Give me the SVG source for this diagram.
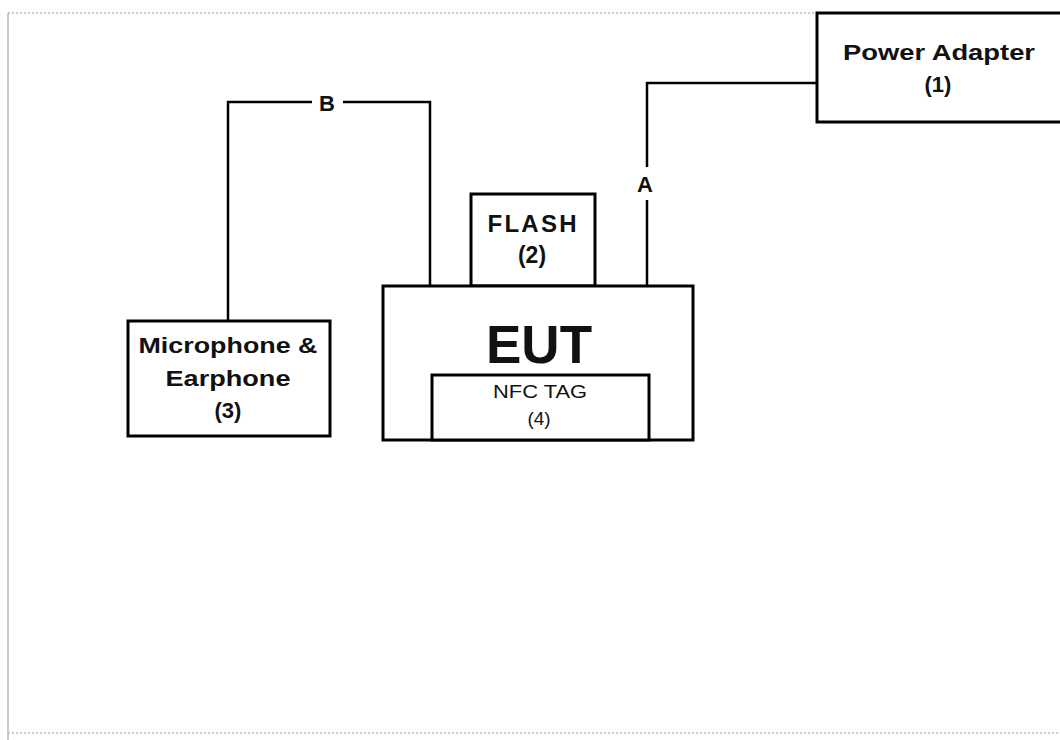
<svg xmlns="http://www.w3.org/2000/svg" width="1060" height="740" viewBox="0 0 1060 740">
<style>
.box{fill:#fff;stroke:#000;stroke-width:3}
.wire{fill:none;stroke:#000;stroke-width:2.5}
.t{font-family:"Liberation Sans",Arial,sans-serif;font-weight:bold;fill:#111;text-anchor:middle}
.frame{fill:none;stroke:#bbb;stroke-width:1.5}
</style>
<rect width="1060" height="740" fill="#fff"/>
<g id="frame">
<line class="frame" x1="8" y1="13" x2="817" y2="13" stroke-dasharray="2 2"/>
<line class="frame" x1="8" y1="13" x2="8" y2="740" stroke-width="2"/>
<line class="frame" x1="8" y1="733" x2="1060" y2="733" stroke-dasharray="2 2" stroke="#ddd"/>
</g>
<g id="connectors">
<polyline class="wire" points="817,83 647,83 647,167"/>
<line class="wire" x1="647" y1="200" x2="647" y2="286"/>
<text class="t" x="645" y="192" font-size="22">A</text>
<polyline class="wire" points="228,321 228,102 312,102"/>
<polyline class="wire" points="343,102 430,102 430,286"/>
<text class="t" x="327" y="111" font-size="22">B</text>
</g>
<g id="power-adapter">
<rect class="box" x="817" y="13" width="260" height="109"/>
<text class="t" x="939" y="60" font-size="22" textLength="192" lengthAdjust="spacingAndGlyphs">Power Adapter</text>
<text class="t" x="938" y="92" font-size="22">(1)</text>
</g>
<g id="flash">
<rect class="box" x="471" y="194" width="124" height="92"/>
<text class="t" x="532" y="232" font-size="24" textLength="89" lengthAdjust="spacing">FLASH</text>
<text class="t" x="532" y="263" font-size="23">(2)</text>
</g>
<g id="microphone">
<rect class="box" x="128" y="321" width="202" height="115"/>
<text class="t" x="228" y="353" font-size="22" textLength="179" lengthAdjust="spacingAndGlyphs">Microphone &amp;</text>
<text class="t" x="228" y="386" font-size="22" textLength="125" lengthAdjust="spacingAndGlyphs">Earphone</text>
<text class="t" x="228" y="418" font-size="22">(3)</text>
</g>
<g id="eut">
<rect class="box" x="383" y="286" width="310" height="154"/>
<text class="t" x="539" y="363" font-size="53">EUT</text>
</g>
<g id="nfc-tag">
<rect class="box" x="432" y="375" width="217" height="65"/>
<text class="t" x="540" y="398" font-size="19" style="font-weight:normal" textLength="94" lengthAdjust="spacingAndGlyphs">NFC TAG</text>
<text class="t" x="539" y="425" font-size="19" style="font-weight:normal">(4)</text>
</g>
</svg>
